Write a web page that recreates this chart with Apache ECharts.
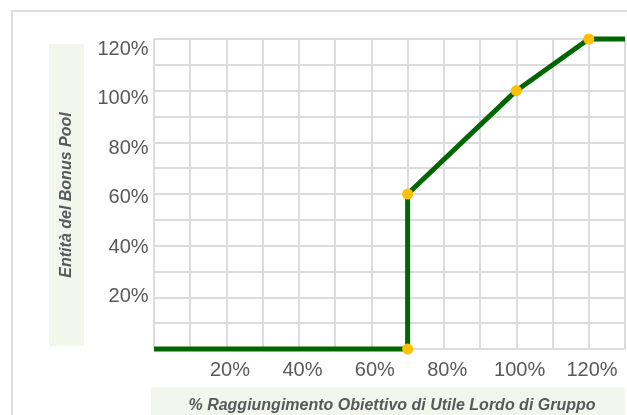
<!DOCTYPE html>
<html>
<head>
<meta charset="utf-8">
<script src="https://cdn.jsdelivr.net/npm/echarts@6/dist/echarts.min.js"></script>
<style>
  html, body { margin: 0; padding: 0; background: #fff; }
  #chart { width: 627px; height: 415px; }
</style>
</head>
<body>
<div id="chart"></div>
<script>
// % raggiungimento obiettivo (x) -> entità del bonus pool (y)
const xPct = [0, 70, 70, 100, 120, 130]
const yPct = [0, 0, 60, 100, 120, 120]
const hasMarker = [false, true, true, true, true, false]
const xTicks = [20, 40, 60, 80, 100, 120]
const yTicks = [20, 40, 60, 80, 100, 120]
const xTitle = '% Raggiungimento Obiettivo di Utile Lordo di Gruppo'
const yTitle = 'Entità del Bonus Pool'

const FONT = "'Liberation Sans', Arial, sans-serif"
const GRID_LINE = '#dcdcdc'
const LABEL = '#595959'
const BOX = '#f3f6ed'

const myChart = echarts.init(document.getElementById('chart'))

const seriesData = xPct.map((x, i) => ({
  value: [x, yPct[i]],
  symbol: hasMarker[i] ? 'circle' : 'none'
}))

const pctLabel = (ticks) => (v) => ticks.includes(v) ? v + '%' : ''

myChart.setOption({
  animation: false,
  grid: [
    // plot with grid lines
    { left: 154, top: 39, right: 2, bottom: 66 },
    // label-only grid (labels in the original sit a little off the grid lines)
    { left: 157.6, top: 49.3, right: 35, bottom: 68.8 }
  ],
  xAxis: [
    {
      gridIndex: 0, type: 'value', min: 0, max: 130, interval: 10,
      axisLine: { show: false }, axisTick: { show: false }, axisLabel: { show: false },
      splitLine: { show: true, lineStyle: { color: GRID_LINE, width: 2 } }
    },
    {
      gridIndex: 1, type: 'value', min: 0, max: 120, interval: 20,
      axisLine: { show: false }, axisTick: { show: false }, splitLine: { show: false },
      axisLabel: {
        margin: 14, fontSize: 20, color: LABEL, fontFamily: FONT,
        formatter: pctLabel(xTicks)
      }
    }
  ],
  yAxis: [
    {
      gridIndex: 0, type: 'value', min: 0, max: 120, interval: 10,
      axisLine: { show: false }, axisTick: { show: false }, axisLabel: { show: false },
      splitLine: { show: true, lineStyle: { color: GRID_LINE, width: 2 } }
    },
    {
      gridIndex: 1, type: 'value', min: 0, max: 120, interval: 20,
      axisLine: { show: false }, axisTick: { show: false }, splitLine: { show: false },
      axisLabel: {
        margin: 9, fontSize: 20, color: LABEL, fontFamily: FONT,
        formatter: pctLabel(yTicks)
      }
    }
  ],
  series: [
    {
      type: 'line',
      xAxisIndex: 0,
      yAxisIndex: 0,
      data: seriesData,
      clip: false,
      symbolSize: 11,
      lineStyle: { color: '#006600', width: 5 },
      itemStyle: { color: '#ffc000', borderWidth: 0 },
      z: 3
    }
  ],
  graphic: [
    {
      type: 'rect',
      shape: { x: 12, y: 11, width: 700, height: 500 },
      style: { fill: 'none', stroke: '#dedede', lineWidth: 2 },
      silent: true
    },
    {
      type: 'rect',
      shape: { x: 49, y: 44, width: 35, height: 302 },
      style: { fill: BOX }
    },
    {
      type: 'text',
      x: 67, y: 195, rotation: Math.PI / 2,
      style: {
        text: yTitle, fill: LABEL, font: 'italic bold 16px ' + FONT,
        align: 'center', verticalAlign: 'middle'
      }
    },
    {
      type: 'rect',
      shape: { x: 151, y: 387, width: 474, height: 40 },
      style: { fill: BOX }
    },
    {
      type: 'text',
      x: 392, y: 406,
      style: {
        text: xTitle, fill: LABEL, font: 'italic bold 16px ' + FONT,
        align: 'center', verticalAlign: 'middle'
      }
    }
  ]
})
</script>
</body>
</html>
